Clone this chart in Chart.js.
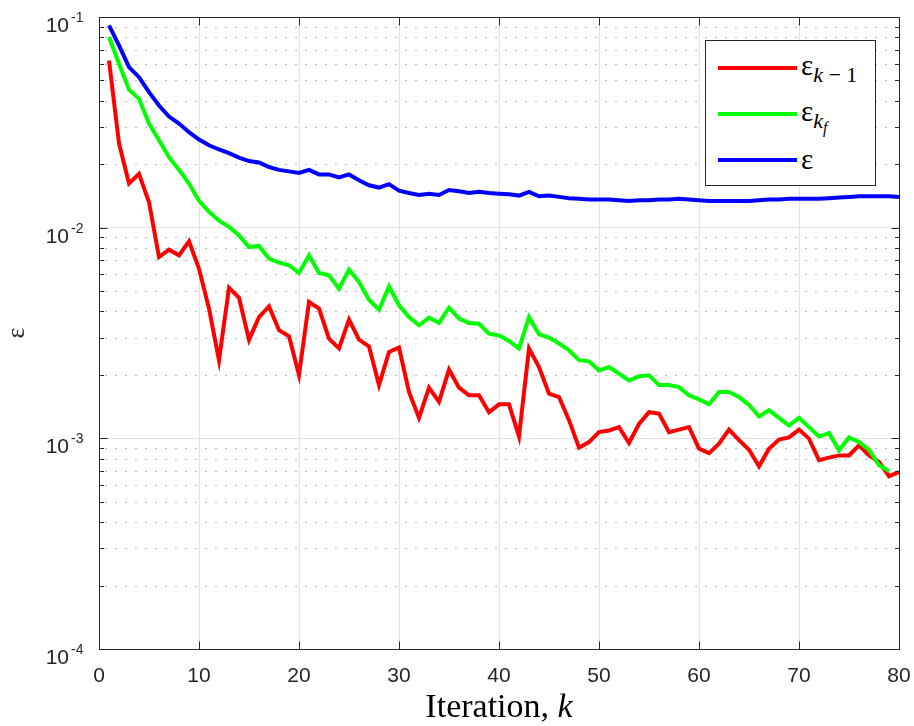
<!DOCTYPE html>
<html>
<head>
<meta charset="utf-8">
<title>Error vs iteration</title>
<script src="https://cdn.jsdelivr.net/npm/chart.js@4.4.1/dist/chart.umd.min.js"></script>
<style>
  body { margin: 0; background: #fff; }
  #wrap { position: relative; width: 914px; height: 726px; }
  #legend { position: absolute; left: 705px; top: 40px; width: 171px; height: 146px;
            box-sizing: border-box; border: 1px solid #262626; background: #fff; }
  #legend .sw { position: absolute; left: 12px; width: 79px; height: 4px; }
  #legend .lab { position: absolute; left: 95px; font: 29px "Liberation Serif", serif;
                 line-height: 28px; color: #000; white-space: nowrap; }
  #legend .sub { font-size: 22px; vertical-align: -7px; }
  #legend .sub2 { font-size: 16px; vertical-align: -5px; }
</style>
</head>
<body>
<div id="wrap">
  <canvas id="chart" width="914" height="726"></canvas>
  <div id="legend"></div>
</div>
<script>
// iteration numbers
const iterations = [
  1, 2, 3, 4, 5, 6, 7, 8, 9, 10, 11, 12, 13, 14, 15, 16, 17, 18, 19, 20,
  21, 22, 23, 24, 25, 26, 27, 28, 29, 30, 31, 32, 33, 34, 35, 36, 37, 38, 39, 40,
  41, 42, 43, 44, 45, 46, 47, 48, 49, 50, 51, 52, 53, 54, 55, 56, 57, 58, 59, 60,
  61, 62, 63, 64, 65, 66, 67, 68, 69, 70, 71, 72, 73, 74, 75, 76, 77, 78, 79, 80
];

// eps_{k-1}
const errPrev = [
  0.0622, 0.0251, 0.0162, 0.0180, 0.0132, 0.00725, 0.00786, 0.00739, 0.00861, 0.00638,
  0.00413, 0.00235, 0.00519, 0.00465, 0.00294, 0.00376, 0.00423, 0.00326, 0.00305, 0.00200,
  0.00444, 0.00413, 0.00297, 0.00267, 0.00366, 0.00294, 0.00273, 0.00179, 0.00257, 0.00270,
  0.00166, 0.00125, 0.00174, 0.00149, 0.00212, 0.00174, 0.00160, 0.00160, 0.00133, 0.00145,
  0.00145, 0.00102, 0.00267, 0.00218, 0.00163, 0.00157, 0.00122, 0.000903, 0.000960, 0.00107,
  0.00109, 0.00113, 0.000950, 0.00117, 0.00133, 0.00131, 0.00107, 0.00110, 0.00113, 0.000893,
  0.000851, 0.000943, 0.00110, 0.000980, 0.000883, 0.000737, 0.000893, 0.000987, 0.00101, 0.00110,
  0.000997, 0.000787, 0.000810, 0.000830, 0.000830, 0.000926, 0.000830, 0.000773, 0.000661, 0.000692
];

// eps_{k_f} (no value at the last iteration)
const errFinal = [
  0.0803, 0.0600, 0.0452, 0.0409, 0.0312, 0.0260, 0.0216, 0.0188, 0.0162, 0.0134,
  0.0119, 0.0108, 0.0101, 0.00919, 0.00809, 0.00819, 0.00713, 0.00683, 0.00663, 0.00609,
  0.00740, 0.00610, 0.00594, 0.00513, 0.00632, 0.00552, 0.00455, 0.00408, 0.00526, 0.00428,
  0.00376, 0.00344, 0.00374, 0.00353, 0.00417, 0.00370, 0.00353, 0.00350, 0.00314, 0.00308,
  0.00290, 0.00267, 0.00376, 0.00312, 0.00301, 0.00282, 0.00262, 0.00235, 0.00232, 0.00210,
  0.00218, 0.00203, 0.00188, 0.00197, 0.00199, 0.00179, 0.00179, 0.00175, 0.00160, 0.00153,
  0.00145, 0.00166, 0.00166, 0.00157, 0.00144, 0.00127, 0.00136, 0.00125, 0.00115, 0.00125,
  0.00113, 0.00102, 0.00106, 0.000877, 0.00101, 0.000960, 0.000883, 0.000745, 0.000700
];

// eps
const errTotal = [
  0.0912, 0.0733, 0.0578, 0.0518, 0.0440, 0.0380, 0.0337, 0.0312, 0.0284, 0.0262,
  0.0246, 0.0235, 0.0226, 0.0215, 0.0207, 0.0204, 0.0194, 0.0188, 0.0185, 0.0182,
  0.0188, 0.0179, 0.0179, 0.0173, 0.0179, 0.0168, 0.0159, 0.0155, 0.0161, 0.0150,
  0.0146, 0.0143, 0.0145, 0.0143, 0.0151, 0.0149, 0.0146, 0.0148, 0.0146, 0.0145,
  0.0144, 0.0142, 0.0148, 0.0141, 0.0142, 0.0140, 0.0138, 0.0137, 0.0136, 0.0136,
  0.0136, 0.0135, 0.0134, 0.0135, 0.0135, 0.0136, 0.0136, 0.0137, 0.0136, 0.0135,
  0.0134, 0.0134, 0.0134, 0.0134, 0.0134, 0.0135, 0.0136, 0.0136, 0.0137, 0.0137,
  0.0137, 0.0137, 0.0138, 0.0139, 0.0140, 0.0141, 0.0141, 0.0141, 0.0141, 0.0140
];

const seriesNames = [
  'ε<span class="sub"><i>k</i> − 1</span>',
  'ε<span class="sub"><i>k</i><span class="sub2"><i>f</i></span></span>',
  'ε'
];
const seriesColors = ["#ff0000", "#00ff00", "#0000ff"];

const xTickValues = [0, 10, 20, 30, 40, 50, 60, 70, 80];
const yTickValues = [1e-4, 1e-3, 1e-2, 1e-1];
const yTickExponents = ["-4", "-3", "-2", "-1"];
const yMinorTicks = yTickValues.slice(0, -1).flatMap(d => [2, 3, 4, 5, 6, 7, 8, 9].map(m => d * m));
const xTitle = ["Iteration, ", "k"];

const axisColor = "#262626";
const sansFont = "'Liberation Sans', Arial, sans-serif";
const serifFont = "'Liberation Serif', serif";

const toPoints = vals => vals.map((v, i) => ({ x: iterations[i], y: v }));

// matlab style box, inward ticks, dotted minor grid, 10^n labels, x title
const axesBox = {
  id: "axesBox",
  beforeDatasetsDraw(chart) {
    const { ctx, chartArea: a, scales: { y } } = chart;
    ctx.save();
    ctx.strokeStyle = "#b8b8b8";
    ctx.lineWidth = 1;
    ctx.setLineDash([2, 8]);
    yMinorTicks.forEach(v => {
      const py = Math.round(y.getPixelForValue(v)) + 0.5;
      ctx.beginPath();
      ctx.moveTo(a.left + 6, py);
      ctx.lineTo(a.right, py);
      ctx.stroke();
    });
    ctx.restore();
  },
  afterDraw(chart) {
    const { ctx, chartArea: a, scales: { x, y } } = chart;
    const L = Math.round(a.left) + 0.5, R = Math.round(a.right) + 0.5;
    const T = Math.round(a.top) + 0.5, B = Math.round(a.bottom) + 0.5;
    ctx.save();
    ctx.strokeStyle = axisColor;
    ctx.lineWidth = 1;
    ctx.beginPath();
    ctx.rect(L, T, R - L, B - T);
    xTickValues.forEach(v => {
      const px = Math.round(x.getPixelForValue(v)) + 0.5;
      ctx.moveTo(px, B); ctx.lineTo(px, B - 8);
      ctx.moveTo(px, T); ctx.lineTo(px, T + 8);
    });
    yTickValues.forEach(v => {
      const py = Math.round(y.getPixelForValue(v)) + 0.5;
      ctx.moveTo(L, py); ctx.lineTo(L + 8, py);
      ctx.moveTo(R, py); ctx.lineTo(R - 8, py);
    });
    yMinorTicks.forEach(v => {
      const py = Math.round(y.getPixelForValue(v)) + 0.5;
      ctx.moveTo(L, py); ctx.lineTo(L + 4.5, py);
      ctx.moveTo(R, py); ctx.lineTo(R - 4.5, py);
    });
    ctx.stroke();

    // y labels: 10 with superscript exponent
    ctx.fillStyle = axisColor;
    ctx.textBaseline = "alphabetic";
    yTickValues.forEach((v, i) => {
      const py = y.getPixelForValue(v);
      ctx.font = "21px " + sansFont;
      ctx.textAlign = "right";
      ctx.fillText("10", a.left - 30, py + 15);
      ctx.font = "14px " + sansFont;
      ctx.textAlign = "left";
      ctx.fillText(yTickExponents[i], a.left - 28, py + 5);
    });

    // x title with italic k
    ctx.fillStyle = "#000";
    ctx.font = "34px " + serifFont;
    const w1 = ctx.measureText(xTitle[0]).width;
    ctx.font = "italic 34px " + serifFont;
    const w2 = ctx.measureText(xTitle[1]).width;
    const x0 = (a.left + a.right) / 2 - (w1 + w2) / 2;
    ctx.textAlign = "left";
    ctx.font = "34px " + serifFont;
    ctx.fillText(xTitle[0], x0, 717);
    ctx.font = "italic 34px " + serifFont;
    ctx.fillText(xTitle[1], x0 + w1, 717);
    ctx.restore();
  }
};

const chart = new Chart(document.getElementById("chart"), {
  type: "line",
  data: {
    datasets: [
      { label: "eps_k-1", data: toPoints(errPrev), borderColor: seriesColors[0], order: 3 },
      { label: "eps_kf", data: toPoints(errFinal), borderColor: seriesColors[1], order: 2 },
      { label: "eps", data: toPoints(errTotal), borderColor: seriesColors[2], order: 1 }
    ]
  },
  options: {
    responsive: false,
    animation: false,
    devicePixelRatio: 1,
    layout: { padding: { top: 17, right: 15, left: 0, bottom: 0 } },
    elements: {
      line: { borderWidth: 4, tension: 0, fill: false },
      point: { radius: 0, hoverRadius: 0 }
    },
    plugins: {
      legend: { display: false },
      tooltip: { enabled: false }
    },
    scales: {
      x: {
        type: "linear",
        min: 0,
        max: 80,
        afterBuildTicks: s => { s.ticks = xTickValues.map(v => ({ value: v })); },
        afterFit: s => { s.height = 77; s.paddingLeft = 0; s.paddingRight = 0; },
        border: { display: false },
        grid: {
          drawTicks: false,
          color: c => (c.tick && (c.tick.value === 0 || c.tick.value === 80)) ? "rgba(0,0,0,0)" : "#e2e2e2"
        },
        ticks: {
          padding: 15,
          color: axisColor,
          font: { family: sansFont, size: 21 },
          maxRotation: 0
        },
        title: { display: false }
      },
      y: {
        type: "logarithmic",
        min: 1e-4,
        max: 1e-1,
        afterBuildTicks: s => { s.ticks = yTickValues.map(v => ({ value: v })); },
        afterFit: s => { s.width = 99; },
        border: { display: false },
        grid: {
          drawTicks: false,
          color: c => (c.tick && (c.tick.value === 1e-4 || c.tick.value === 1e-1)) ? "rgba(0,0,0,0)" : "#e2e2e2"
        },
        ticks: { display: false },
        title: {
          display: true,
          text: "ε",
          color: axisColor,
          font: { family: serifFont, size: 26 },
          padding: { top: 2, bottom: 0 }
        }
      }
    }
  },
  plugins: [axesBox]
});

// html legend (needs subscripts)
const legend = document.getElementById("legend");
const swatchTops = [25, 71, 117];
const labelTops = [10, 56, 104];
seriesNames.forEach((name, i) => {
  const sw = document.createElement("div");
  sw.className = "sw";
  sw.style.top = swatchTops[i] + "px";
  sw.style.background = chart.data.datasets[i].borderColor;
  legend.appendChild(sw);
  const lab = document.createElement("div");
  lab.className = "lab";
  lab.style.top = labelTops[i] + "px";
  lab.innerHTML = name;
  legend.appendChild(lab);
});
</script>
</body>
</html>
